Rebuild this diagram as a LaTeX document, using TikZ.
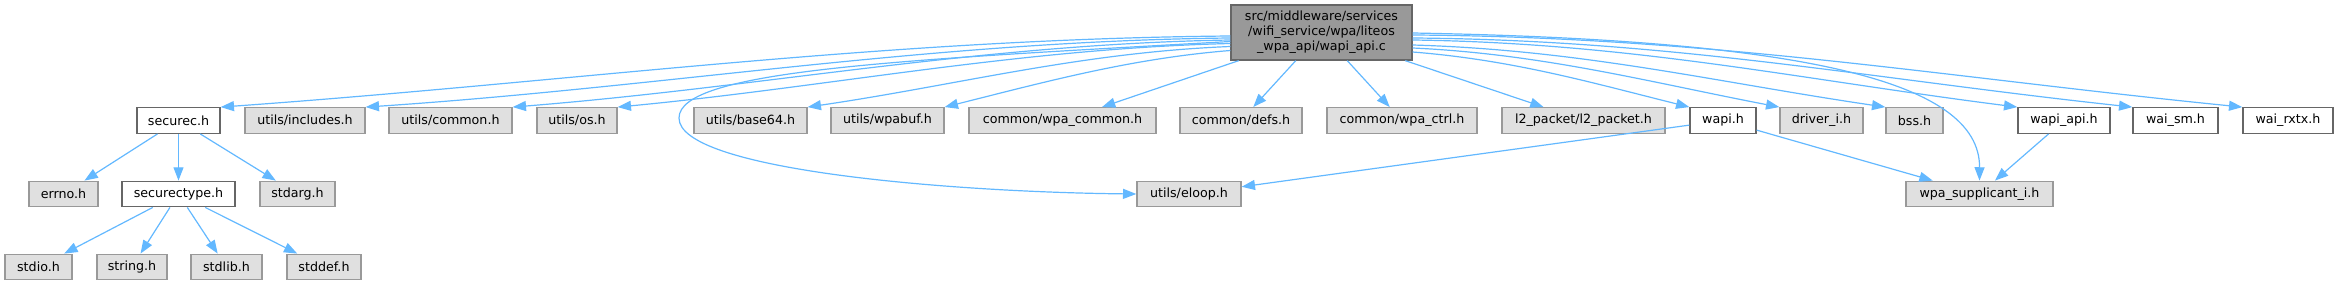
\documentclass[tikz,border=0pt]{standalone}
\usepackage{fontspec}
\setmainfont{DejaVu Sans}
\usetikzlibrary{arrows.meta,calc}
\definecolor{edgec}{HTML}{63B8FF}
\definecolor{gfill}{HTML}{E0E0E0}
\definecolor{gdraw}{HTML}{999999}
\definecolor{wdraw}{HTML}{666666}
\definecolor{mfill}{HTML}{999999}
\newcommand\dxfont{\fontsize{9.5}{11.25}\selectfont}
\begin{document}
\begin{tikzpicture}[x=0.75pt,y=-0.75pt,
  basebox/.style={rectangle, line width=1pt, inner sep=0pt, font=\dxfont, minimum height=25.5*0.75pt},
  gbox/.style={basebox, draw=gdraw, fill=gfill},
  wbox/.style={basebox, draw=wdraw, fill=white},
  mainbox/.style={basebox, draw=wdraw, fill=mfill, align=center, minimum height=55*0.75pt},
  bw/.style={minimum width=#1*0.75pt},
  dep/.style={draw=edgec, line width=0.9pt, -{Triangle[length=10pt,width=7.5pt]}}]
\useasboundingbox (0,0) rectangle (2339,285);

% main node
\node[mainbox, bw=181] (main) at (1321.5,32.5) {src/middleware/services\\/wifi\_service/wpa/liteos\\\_wpa\_api/wapi\_api.c};

% row 1
\node[wbox, bw=83]  (securec)   at (178.5,120.5) {securec.h};
\node[gbox, bw=120] (includes)  at (305,120.5)   {utils/includes.h};
\node[gbox, bw=123] (common)    at (450.5,120.5) {utils/common.h};
\node[gbox, bw=80]  (os)        at (577,120.5)   {utils/os.h};
\node[gbox, bw=113] (base64)    at (750.5,120.5) {utils/base64.h};
\node[gbox, bw=113] (wpabuf)    at (887.5,120.5) {utils/wpabuf.h};
\node[gbox, bw=187] (wpacommon) at (1062.5,120.5) {common/wpa\_common.h};
\node[gbox, bw=122] (defs)      at (1241,120.5)  {common/defs.h};
\node[gbox, bw=150] (wpactrl)   at (1402,120.5)  {common/wpa\_ctrl.h};
\node[gbox, bw=163] (l2)        at (1583.5,120.5) {l2\_packet/l2\_packet.h};
\node[wbox, bw=66]  (wapi)      at (1723,120.5)  {wapi.h};
\node[gbox, bw=83]  (driveri)   at (1821.5,120.5) {driver\_i.h};
\node[gbox, bw=57]  (bss)       at (1914.5,120.5) {bss.h};
\node[wbox, bw=92]  (wapiapi)   at (2064,120.5)  {wapi\_api.h};
\node[wbox, bw=85]  (waism)     at (2175.5,120.5) {wai\_sm.h};
\node[wbox, bw=90]  (wairxtx)   at (2288,120.5)  {wai\_rxtx.h};

% row 2
\node[gbox, bw=69]  (errno)       at (63.5,194)   {errno.h};
\node[wbox, bw=113] (securectype) at (178.5,194)  {securectype.h};
\node[gbox, bw=75]  (stdarg)      at (297.5,194)  {stdarg.h};
\node[gbox, bw=104] (eloop)       at (1189,194)   {utils/eloop.h};
\node[gbox, bw=147] (wpasupp)     at (1979.5,194) {wpa\_supplicant\_i.h};

% row 3
\node[gbox, bw=67] (stdio)  at (38.5,267) {stdio.h};
\node[gbox, bw=70] (string) at (132,267)  {string.h};
\node[gbox, bw=71] (stdlib) at (226.5,267) {stdlib.h};
\node[gbox, bw=74] (stddef) at (324,267)  {stddef.h};

% edges from main, left group
\draw[dep] ($(main.west)+(0,3.5)$) .. controls +(-350,3) and +(350,-25) .. (securec.north east);
\draw[dep] ($(main.west)+(0,5.5)$) .. controls +(-300,3) and +(300,-20) .. (includes.north east);
\draw[dep] ($(main.west)+(0,7.5)$) .. controls +(-250,4) and +(250,-20) .. (common.north east);
\draw[dep] ($(main.west)+(0,11)$) .. controls +(-210,5) and +(210,-20) .. (os.north east);
\draw[dep] ($(main.west)+(0,14)$) .. controls +(-150,6) and +(150,-22) .. (base64.north east);
\draw[dep] ($(main.west)+(0,18)$) .. controls +(-100,8) and +(100,-25) .. (wpabuf.north east);
\draw[dep] ($(main.west)+(0,9)$) .. controls (900,60) and (679,70) .. (679,118)
           .. controls (679,170) and (950,192) .. (eloop.west);
\draw[dep] (main) -- (wpacommon);
\draw[dep] (main) -- (defs);
\draw[dep] (main) -- (wpactrl);
\draw[dep] (main) -- (l2);

% edges from main, right group
\draw[dep] ($(main.east)+(0,0.5)$) .. controls (1800,40) and (1980,80) .. (wpasupp.north);
\draw[dep] ($(main.east)+(0,2.5)$) .. controls +(300,2) and +(-300,-30) .. (wairxtx.north west);
\draw[dep] ($(main.east)+(0,5.5)$) .. controls +(260,2) and +(-260,-28) .. (waism.north west);
\draw[dep] ($(main.east)+(0,7.5)$) .. controls +(220,3) and +(-220,-28) .. (wapiapi.north west);
\draw[dep] ($(main.east)+(0,12.5)$) .. controls +(170,5) and +(-170,-25) .. (bss.north west);
\draw[dep] ($(main.east)+(0,15.5)$) .. controls +(130,6) and +(-130,-25) .. (driveri.north west);
\draw[dep] ($(main.east)+(0,19.5)$) .. controls +(100,8) and +(-100,-25) .. (wapi.north west);

% other edges
\draw[dep] (securec) -- (errno);
\draw[dep] (securec) -- (securectype);
\draw[dep] (securec) -- (stdarg);
\draw[dep] (securectype) -- (stdio);
\draw[dep] (securectype) -- (string);
\draw[dep] (securectype) -- (stdlib);
\draw[dep] (securectype) -- (stddef);
\draw[dep] (wapi) -- (eloop);
\draw[dep] (wapi) -- (wpasupp);
\draw[dep] (wapiapi) -- (wpasupp);
\end{tikzpicture}
\end{document}
